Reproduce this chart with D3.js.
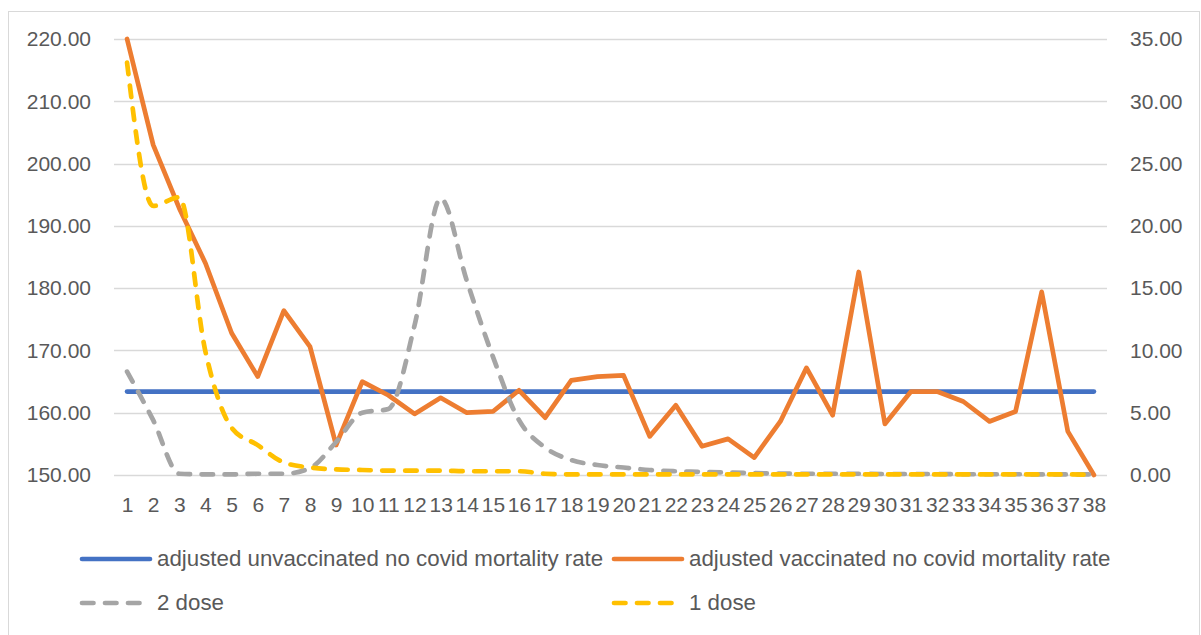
<!DOCTYPE html>
<html>
<head>
<meta charset="utf-8">
<script src="https://cdn.jsdelivr.net/npm/d3@7"></script>
<style>
  html, body { margin: 0; padding: 0; background: #ffffff; }
  svg { display: block; }
  text { font-family: "Liberation Sans", Arial, sans-serif; fill: #595959; }
</style>
</head>
<body>
<svg id="chart" width="1201" height="635"></svg>
<script>
// ---- data ----
const categories = d3.range(1, 39).map(String);

const leftTicks = [150, 160, 170, 180, 190, 200, 210, 220];
const rightTicks = [0, 5, 10, 15, 20, 25, 30, 35];

// left axis series
const unvaccinated = [163.4,163.4,163.4,163.4,163.4,163.4,163.4,163.4,163.4,163.4,
  163.4,163.4,163.4,163.4,163.4,163.4,163.4,163.4,163.4,163.4,163.4,163.4,163.4,163.4,
  163.4,163.4,163.4,163.4,163.4,163.4,163.4,163.4,163.4,163.4,163.4,163.4,163.4,163.4];

// right axis series
const vaccinated = [35, 26.5, 21.4, 17.0, 11.4, 7.9, 13.2, 10.3, 2.4, 7.5,
  6.4, 4.9, 6.2, 5.0, 5.1, 6.8, 4.6, 7.6, 7.9, 8.0,
  3.1, 5.6, 2.3, 2.9, 1.4, 4.3, 8.6, 4.8, 16.3, 4.1,
  6.7, 6.7, 5.9, 4.3, 5.1, 14.7, 3.5, 0.0];

const dose2 = [8.3, 4.4, 0.1, 0.05, 0.05, 0.1, 0.1, 0.55, 2.65, 5.0,
  5.3, 12.0, 22.2, 15.6, 9.5, 4.4, 2.2, 1.2, 0.8, 0.6,
  0.4, 0.3, 0.25, 0.2, 0.15, 0.12, 0.1, 0.1, 0.1, 0.08,
  0.08, 0.08, 0.06, 0.06, 0.06, 0.05, 0.05, 0.05];

const dose1 = [33.1, 21.6, 22.3, 9.9, 3.8, 2.4, 1.0, 0.6, 0.45, 0.4,
  0.35, 0.35, 0.35, 0.3, 0.3, 0.3, 0.1, 0.05, 0.05, 0.05,
  0.05, 0.05, 0.05, 0.05, 0.05, 0.05, 0.05, 0.05, 0.05, 0.05,
  0.05, 0.05, 0.05, 0.05, 0.05, 0.05, 0.05, 0.0];

const seriesNames = [
  "adjusted unvaccinated no covid mortality rate",
  "adjusted vaccinated no covid mortality rate",
  "2 dose",
  "1 dose"
];
const colors = ["#4472C4", "#ED7D31", "#A5A5A5", "#FFC000"];

// ---- layout ----
const svg = d3.select("#chart");
const plot = { left: 114, right: 1107, top: 39, bottom: 475 };

svg.append("rect")
  .attr("x", 8.5).attr("y", 11.5)
  .attr("width", 1191).attr("height", 640)
  .attr("fill", "#ffffff").attr("stroke", "#D9D9D9").attr("stroke-width", 1);

const x = d3.scalePoint().domain(categories)
  .range([plot.left, plot.right]).padding(0.5);
const yL = d3.scaleLinear().domain([150, 220]).range([plot.bottom, plot.top]);
const yR = d3.scaleLinear().domain([0, 35]).range([plot.bottom, plot.top]);

// gridlines
svg.append("g").selectAll("line").data(leftTicks).join("line")
  .attr("x1", plot.left).attr("x2", plot.right)
  .attr("y1", d => Math.round(yL(d)) + 0.5).attr("y2", d => Math.round(yL(d)) + 0.5)
  .attr("stroke", "#D9D9D9").attr("stroke-width", 1.3);

// left axis
const leftAxis = svg.append("g").attr("transform", `translate(${plot.left - 23},0)`)
  .call(d3.axisLeft(yL).tickValues(leftTicks).tickFormat(d3.format(".2f")).tickSize(0).tickPadding(0));
leftAxis.select(".domain").remove();
leftAxis.selectAll("text").attr("font-size", 21).attr("fill", "#595959")
  .style("font-family", '"Liberation Sans", Arial, sans-serif');

// right axis
const rightAxis = svg.append("g").attr("transform", `translate(${plot.right + 23},0)`)
  .call(d3.axisRight(yR).tickValues(rightTicks).tickFormat(d3.format(".2f")).tickSize(0).tickPadding(0));
rightAxis.select(".domain").remove();
rightAxis.selectAll("text").attr("font-size", 21).attr("fill", "#595959")
  .style("font-family", '"Liberation Sans", Arial, sans-serif');

// x axis
const xAxis = svg.append("g").attr("transform", `translate(0,${plot.bottom})`)
  .call(d3.axisBottom(x).tickSize(0).tickPadding(22));
xAxis.select(".domain").remove();
xAxis.selectAll("text").attr("font-size", 21).attr("fill", "#595959")
  .style("font-family", '"Liberation Sans", Arial, sans-serif');

// lines
const lineL = d3.line().x((d, i) => x(categories[i])).y(d => yL(d));
const lineR = d3.line().x((d, i) => x(categories[i])).y(d => yR(d));
const smoothR = d3.line().x((d, i) => x(categories[i])).y(d => yR(d))
  .curve(d3.curveMonotoneX);

const dash = "11.5 11.5";
const lineSpecs = [
  { data: unvaccinated, gen: lineL, color: colors[0], dash: null },
  { data: vaccinated, gen: lineR, color: colors[1], dash: null },
  { data: dose2, gen: smoothR, color: colors[2], dash: dash },
  { data: dose1, gen: smoothR, color: colors[3], dash: dash }
];
lineSpecs.forEach(s => {
  svg.append("path")
    .attr("d", s.gen(s.data))
    .attr("fill", "none")
    .attr("stroke", s.color)
    .attr("stroke-width", 4.7)
    .attr("stroke-linecap", "round")
    .attr("stroke-linejoin", "round")
    .attr("stroke-dasharray", s.dash);
});

// legend
const legendItems = [
  { name: seriesNames[0], color: colors[0], dash: null, lx: 82, ly: 559 },
  { name: seriesNames[1], color: colors[1], dash: null, lx: 614, ly: 559 },
  { name: seriesNames[2], color: colors[2], dash: dash, lx: 82, ly: 603 },
  { name: seriesNames[3], color: colors[3], dash: dash, lx: 614, ly: 603 }
];
const lg = svg.append("g");
legendItems.forEach(it => {
  lg.append("line")
    .attr("x1", it.lx).attr("x2", it.lx + (it.dash ? 58 : 68))
    .attr("y1", it.ly).attr("y2", it.ly)
    .attr("stroke", it.color).attr("stroke-width", 4.7)
    .attr("stroke-linecap", "round")
    .attr("stroke-dasharray", it.dash);
  lg.append("text")
    .attr("x", it.lx + 75).attr("y", it.ly + 7)
    .attr("font-size", 22.3)
    .text(it.name);
});
</script>
</body>
</html>
